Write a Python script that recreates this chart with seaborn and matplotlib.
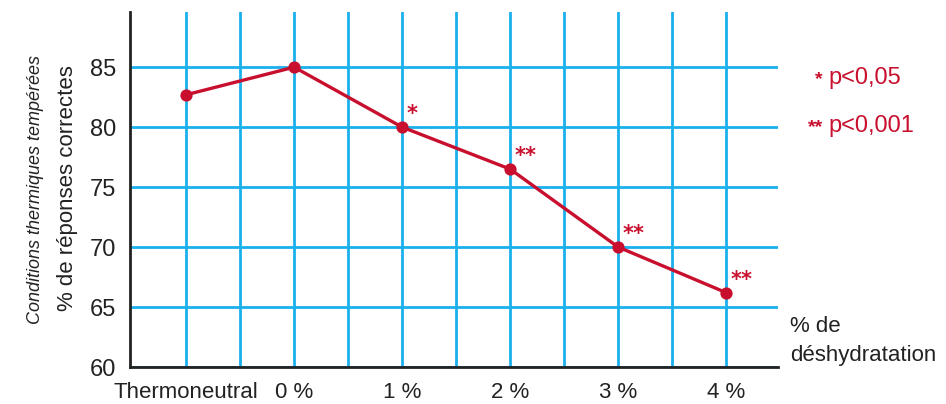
import matplotlib
matplotlib.use("Agg")
import matplotlib.pyplot as plt
import numpy as np
import seaborn as sns

# data
conditions = ["Thermoneutral", "0 %", "1 %", "2 %", "3 %", "4 %"]
correct_pct = [82.7, 85.0, 80.0, 76.5, 70.0, 66.2]
signif = ["", "", "*", "**", "**", "**"]
y_ticks = [60, 65, 70, 75, 80, 85]

red = "#c8102e"
blue = "#1ab0ec"
ink = "#222222"

sns.set_style("white")
plt.rcParams["font.family"] = ["Liberation Sans", "DejaVu Sans"]
plt.rcParams["text.color"] = ink

fig = plt.figure(figsize=(9.46, 4.04), dpi=100)
ax = fig.add_axes([130 / 946, 37 / 404, 648 / 946, 355 / 404])

sns.pointplot(x=conditions, y=correct_pct, color=red, markersize=7,
              linewidth=2.4, ax=ax, zorder=5)

ax.set_xlim(-0.52, 5.48)
ax.set_ylim(60, 89.6)
ax.set_yticks(y_ticks)
ax.set_xticks(range(len(conditions)))
ax.set_xticks(np.arange(0.5, len(conditions) - 1, 1), minor=True)
ax.set_xticklabels(conditions)

ax.grid(True, which="both", axis="x", color=blue, linewidth=2)
ax.grid(True, which="major", axis="y", color=blue, linewidth=2)
ax.set_axisbelow(True)

for side in ["top", "right"]:
    ax.spines[side].set_visible(False)
for side in ["left", "bottom"]:
    ax.spines[side].set_color(ink)
    ax.spines[side].set_linewidth(2)

ax.tick_params(axis="both", which="both", direction="out", length=7,
               width=1.8, color=ink, labelcolor=ink)
ax.tick_params(axis="y", labelsize=17, pad=3)
ax.tick_params(axis="x", labelsize=16, pad=4)
ax.set_xlabel("")
ax.set_ylabel("")

for i, s in enumerate(signif):
    if s:
        ax.annotate(s, (i, correct_pct[i]), xytext=(3, 2),
                    textcoords="offset points", color=red, fontsize=15,
                    ha="left", va="bottom", family="DejaVu Sans",
                    fontweight="bold")

fig.text(68 / 946, 1 - 188 / 404, "% de réponses correctes", rotation=90,
         ha="center", va="center", fontsize=16, color=ink)
fig.text(35 / 946, 1 - 190 / 404, "Conditions thermiques tempérées",
         rotation=90, ha="center", va="center", fontsize=13,
         style="italic", color=ink)

fig.text(790 / 946, 1 - 341 / 404, "% de\ndéshydratation", ha="left",
         va="center", fontsize=16, linespacing=1.45, color=ink)

fig.text(828 / 946, 1 - 78 / 404, "p<0,05", ha="left", va="center",
         fontsize=17, color=red)
fig.text(823 / 946, 1 - 80 / 404, "*", ha="right", va="center",
         fontsize=14, color=red, fontweight="bold")
fig.text(828 / 946, 1 - 126 / 404, "p<0,001", ha="left", va="center",
         fontsize=17, color=red)
fig.text(823 / 946, 1 - 128 / 404, "**", ha="right", va="center",
         fontsize=14, color=red, fontweight="bold")

fig.savefig("out.png", dpi=100)
